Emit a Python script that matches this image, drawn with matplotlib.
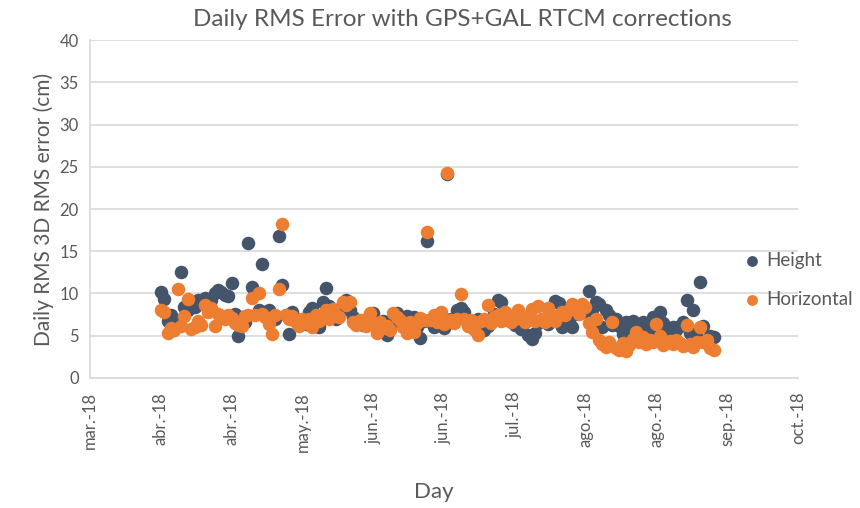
import matplotlib
matplotlib.use('Agg')
import matplotlib.pyplot as plt
import pandas as pd

plt.rcParams['font.family'] = ['Lato', 'DejaVu Sans']

# primer día con datos y valores diarios (cm)
first_day = '2018-04-03'

height = [10.2, 9.3, 6.7, 7.4, 6.6, 6.2, 12.6, 8.4, 8.0, 8.9,
          8.4, 9.2, 9.0, 9.5, 8.6, 9.2, 10.0, 10.4, 10.2, 9.8,
          9.7, 11.2, 7.6, 5.0, 7.2, 6.6, 16.0, 10.8, 9.9, 8.0,
          13.5, 7.8, 8.0, 7.5, 7.0, 16.8, 11.0, 7.5, 5.2, 7.8,
          7.0, 6.5, 6.8, 6.4, 7.8, 8.3, 6.2, 6.0, 9.0, 10.6,
          8.5, 7.8, 7.0, 7.5, 8.8, 9.2, 8.0, 7.2, 6.6, 6.8,
          6.3, 6.5, 7.2, 7.7, 6.0, 5.6, 6.8, 5.1, 6.2, 7.0,
          7.7, 6.8, 6.4, 7.3, 6.9, 7.2, 6.0, 4.7, 6.8, 16.2,
          6.9, 6.0, 7.2, 6.6, 5.9, 24.1, 7.0, 6.6, 8.0, 8.3,
          7.8, 6.8, 6.2, 5.8, 7.0, 6.5, 5.7, 6.2, 6.8, 7.6,
          9.2, 9.0, 7.6, 6.9, 7.2, 6.3, 7.0, 5.8, 6.6, 5.1,
          4.6, 5.3, 6.5, 7.0, 6.8, 6.4, 7.2, 9.1, 8.9, 6.0,
          8.2, 7.0, 6.0, 7.6, 8.0, 8.3, 7.8, 10.3, 8.0, 9.0,
          8.8, 6.0, 8.0, 7.5, 6.3, 7.0, 6.2, 5.2, 6.6, 5.8,
          6.8, 6.0, 5.5, 6.6, 6.0, 5.2, 7.2, 6.4, 7.8, 6.5,
          5.8, 5.0, 6.0, 5.7, 6.2, 6.6, 9.2, 5.3, 8.0, 4.8,
          11.4, 6.2, 4.5, 5.0, 4.9]

horizontal = [8.0, 7.8, 5.3, 5.9, 5.7, 10.5, 6.2, 7.3, 9.3, 5.8,
              6.0, 6.8, 6.3, 8.6, 7.8, 8.3, 6.1, 7.6, 7.3, 7.0,
              7.5, 7.1, 6.5, 6.3, 6.1, 7.3, 7.5, 9.5, 7.4, 10.0,
              7.6, 7.2, 6.4, 5.2, 7.5, 10.5, 18.2, 7.4, 7.0, 7.3,
              6.6, 6.2, 7.0, 6.5, 7.0, 6.0, 7.4, 6.7, 7.5, 8.0,
              7.0, 8.2, 7.5, 7.2, 9.0, 8.6, 9.0, 6.6, 6.3, 6.9,
              6.9, 6.2, 7.7, 6.5, 5.3, 6.6, 5.9, 6.1, 5.7, 7.7,
              7.2, 6.9, 6.0, 5.3, 6.6, 5.5, 6.5, 7.1, 6.9, 17.3,
              6.9, 7.4, 6.6, 7.8, 6.4, 24.3, 6.9, 6.5, 7.0, 9.9,
              7.0, 6.2, 6.9, 5.8, 5.1, 6.7, 7.0, 8.6, 6.5, 7.2,
              7.4, 6.8, 7.8, 7.2, 6.6, 7.0, 8.1, 7.4, 6.6, 7.0,
              8.2, 6.8, 8.5, 7.0, 6.6, 8.3, 7.2, 6.8, 7.4, 7.8,
              7.5, 8.1, 8.8, 8.3, 7.6, 8.8, 8.4, 6.5, 5.4, 7.0,
              4.5, 4.0, 3.7, 4.3, 6.6, 3.5, 3.3, 4.1, 3.2, 3.9,
              4.6, 5.4, 4.2, 4.8, 4.0, 4.5, 4.2, 6.4, 5.0, 3.9,
              4.3, 4.4, 4.0, 4.5, 4.1, 3.8, 6.3, 4.0, 3.7, 4.2,
              6.0, 4.2, 4.5, 3.6, 3.3]

# ejes: marcas cada 21 días, como en Excel
tick_dates = ['2018-03-13', '2018-04-03', '2018-04-24', '2018-05-15',
              '2018-06-05', '2018-06-26', '2018-07-17', '2018-08-07',
              '2018-08-28', '2018-09-18', '2018-10-09']
tick_labels = ['mar.-18', 'abr.-18', 'abr.-18', 'may.-18', 'jun.-18', 'jun.-18',
               'jul.-18', 'ago.-18', 'ago.-18', 'sep.-18', 'oct.-18']
y_ticks = [0, 5, 10, 15, 20, 25, 30, 35, 40]

days = pd.date_range(first_day, periods=len(height), freq='D')
ticks = pd.to_datetime(tick_dates)

gray_text = '#595959'
grid_c = '#D9D9D9'

fig = plt.figure(figsize=(8.6, 5.08), dpi=100)
ax = fig.add_axes([0.1047, 0.256, 0.823, 0.665])

ax.scatter(days, height, s=95, color='#44546A', label='Height', zorder=3, linewidths=0)
ax.scatter(days, horizontal, s=95, color='#ED7D31', label='Horizontal', zorder=4, linewidths=0)

ax.set_xlim(ticks[0], ticks[-1])
ax.set_ylim(0, 40)
ax.set_yticks(y_ticks)
ax.set_xticks(ticks)
ax.set_xticklabels(tick_labels, rotation=90)
ax.tick_params(axis='both', length=0, colors=gray_text, labelsize=12)
ax.tick_params(axis='x', pad=10)
ax.tick_params(axis='y', pad=8)
ax.yaxis.grid(True, color=grid_c, linewidth=1.2)
ax.set_axisbelow(True)
for side in ['top', 'right']:
    ax.spines[side].set_visible(False)
for side in ['left', 'bottom']:
    ax.spines[side].set_color(grid_c)
    ax.spines[side].set_linewidth(1.2)

ax.set_ylabel('Daily RMS 3D RMS error (cm)', fontsize=15, color=gray_text)
ax.set_xlabel('Day', fontsize=16, color=gray_text, va='center')
ax.xaxis.set_label_coords(0.485, -0.338)
fig.text(0.538, 0.962, 'Daily RMS Error with GPS+GAL RTCM corrections',
         fontsize=17.5, color=gray_text, ha='center', va='center')

leg = ax.legend(loc='center left', bbox_to_anchor=(0.898, 0.29), frameon=False,
                fontsize=13.5, labelspacing=1.15, handletextpad=0.25,
                handlelength=1.0, borderpad=0.4, markerscale=0.8)
for t in leg.get_texts():
    t.set_color(gray_text)

fig.savefig('out.png', dpi=100)
